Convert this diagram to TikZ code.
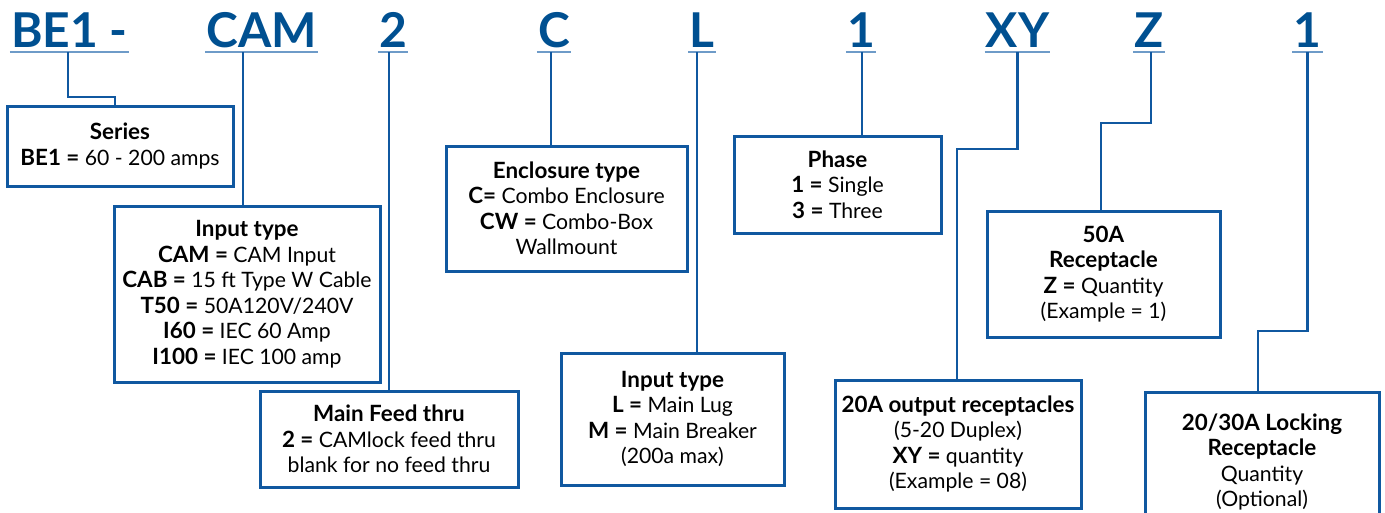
\documentclass[tikz,border=0pt]{standalone}
\usepackage{fontspec}
\setmainfont{Lato}
\definecolor{codeblue}{RGB}{0,80,145}
\definecolor{lineblue}{RGB}{16,88,160}
\definecolor{ulblue}{RGB}{110,155,200}
\newcommand\kb[1]{{\fontsize{22.4}{25.5}\selectfont\bfseries #1}}

\begin{document}
\begin{tikzpicture}[x=1pt,y=-1pt]
\tikzstyle{every node}=[inner sep=0pt]
\tikzstyle{code}=[anchor=base, inner xsep=1pt, inner ysep=5pt, text depth=0pt, text=codeblue, font=\fontsize{48}{48}\selectfont\bfseries]
\tikzstyle{box}=[draw=lineblue, line width=3pt, align=center, font=\fontsize{21.2}{25.5}\selectfont]
\tikzstyle{link}=[draw=lineblue, line width=2.5pt]
\tikzstyle{uline}=[draw=ulblue, line width=2pt]
\useasboundingbox (0,0) rectangle (1385,512);
\clip (0,0) rectangle (1385,512);
% part number
\draw (69.5,47) node (be) [code] {BE1 -};
\draw (261.5,47) node (cam) [code] {CAM};
\draw (393,47) node (two) [code] {2};
\draw (554,47) node (encl) [code] {C};
\draw (702,47) node (lug) [code] {L};
\draw (861,47) node (ph) [code] {1};
\draw (1017.5,47) node (xy) [code] {XY};
\draw (1149,47) node (zz) [code] {Z};
\draw (1307.5,47) node (lock) [code] {1};
\foreach \c in {be,cam,two,encl,lug,ph,xy,zz,lock}
  \draw[uline] (\c.south west) -- (\c.south east);
% boxes
\draw (120,146) node (series) [box, minimum width=226pt, minimum height=80pt]
  {\kb{Series}\\ \kb{BE1 =} 60 - 200 amps};
\draw (247,294) node (camin) [box, minimum width=266pt, minimum height=176pt]
  {\kb{Input type}\\ \kb{CAM =} CAM Input\\ \kb{CAB =} 15 ft Type W Cable\\
   \kb{T50 =} 50A120V/240V\\ \kb{I60 =} IEC 60 Amp\\ \kb{I100 =} IEC 100 amp};
\draw (389,439) node (feed) [box, minimum width=258pt, minimum height=96pt]
  {\kb{Main Feed thru}\\ \kb{2 =} CAMlock feed thru\\ blank for no feed thru};
\draw (566.5,208.5) node (enclbox) [box, minimum width=241pt, minimum height=125pt]
  {\kb{Enclosure type}\\ \kb{C=} Combo Enclosure\\ \kb{CW =} Combo-Box\\ Wallmount};
\draw (672.5,419) node (lugin) [box, minimum width=223pt, minimum height=132pt]
  {\kb{Input type}\\ \kb{L =} Main Lug\\ \kb{M =} Main Breaker\\ (200a max)};
\draw (837.5,184.5) node (phase) [box, minimum width=207pt, minimum height=97pt]
  {\kb{Phase}\\ \kb{1 =} Single\\ \kb{3 =} Three};
\draw (1103.5,274) node (zbox) [box, minimum width=233pt, minimum height=126pt]
  {\kb{50A}\\ \kb{Receptacle}\\ \kb{Z =} Quantity\\ (Example = 1)};
\draw (958,444) node (out20) [box, minimum width=246pt, minimum height=128pt]
  {\kb{20A output receptacles}\\ (5-20 Duplex)\\ \kb{XY =} quantity\\ (Example = 08)};
\draw (1262,462) node (lockbox) [box, minimum width=234pt, minimum height=140pt]
  {\kb{20/30A Locking}\\ \kb{Receptacle}\\ Quantity\\ (Optional)};
% connectors
\coordinate (j1) at (115,97);
\coordinate (j2) at (957,149);
\coordinate (j3) at (1101,123);
\coordinate (j4) at (1258,331);
\draw[link] ([xshift=-1.5pt]be.south) |- (j1) -- (j1 |- series.north);
\draw[link] ([xshift=-18.5pt]cam.south) -- ([xshift=-18.5pt]cam.south |- camin.north);
\draw[link] ([xshift=-4pt]two.south) -- ([xshift=-4pt]two.south |- feed.north);
\draw[link] ([xshift=-3pt]encl.south) -- ([xshift=-3pt]encl.south |- enclbox.north);
\draw[link] ([xshift=-5pt]lug.south) -- ([xshift=-5pt]lug.south |- lugin.north);
\draw[link] ([xshift=1pt]ph.south) -- ([xshift=1pt]ph.south |- phase.north);
\draw[link] (xy.south) |- (j2) -- (j2 |- out20.north);
\draw[link] ([xshift=2pt]zz.south) |- (j3) -- (j3 |- zbox.north);
\draw[link] (lock.south) |- (j4) -- (j4 |- lockbox.north);
\end{tikzpicture}
\end{document}
